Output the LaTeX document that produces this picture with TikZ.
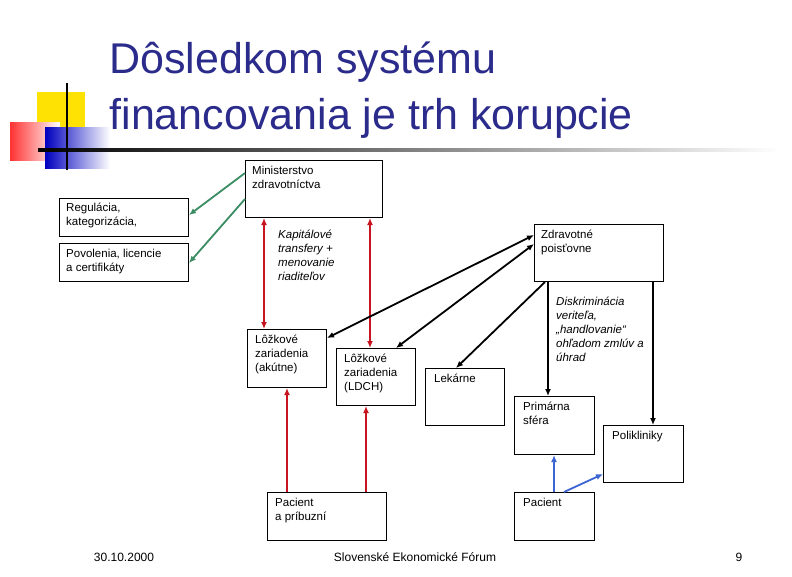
\documentclass[tikz,border=0pt]{standalone}
\usepackage{fontspec}
\setmainfont{Liberation Sans}
\usetikzlibrary{positioning,arrows.meta}
\definecolor{titleblue}{RGB}{43,43,140}
\definecolor{arrred}{RGB}{200,20,30}
\definecolor{arrgreen}{RGB}{60,140,100}
\definecolor{arrblue}{RGB}{60,100,210}
\tikzstyle{box}=[draw,line width=1pt,fill=white,anchor=north west,inner sep=0pt]
\tikzstyle{txt}=[anchor=north west,align=left,font=\fontsize{11.5}{14}\selectfont,inner sep=0pt]
\tikzstyle{lbl}=[anchor=north west,align=left,font=\fontsize{11.5}{14}\selectfont\itshape,inner sep=0pt]
\tikzstyle{conn}=[line width=1.8pt,->]

\begin{document}
\begin{tikzpicture}[x=1pt,y=-1pt,>={Latex[length=7pt,width=6pt]}]
    \useasboundingbox (0,0) rectangle (792,576);

    % logo
    \fill[yellow!85!orange] (37,92) rectangle (85,135);
    \shade[left color=red!80,right color=white] (10,122) rectangle (60,160);
    \shade[left color=blue!75!black,right color=white] (45,127) rectangle (110,168);
    \shade[left color=black,right color=white] (38,148.5) rectangle (780,151.5);
    \draw[line width=2.5pt] (67,83) -- (67,170);

    % title
    \node[anchor=west,text=titleblue,font=\fontsize{43}{50}\selectfont] (t1) at (106,62) {Dôsledkom systému};
    \node[anchor=west,text=titleblue,font=\fontsize{43}{50}\selectfont] (t2) at (106,118) {financovania je trh korupcie};

    % boxes
    \node[box,minimum width=137,minimum height=57] (mz) at (245,160) {};
    \node[txt] at (252,166) {Ministerstvo\\zdravotníctva};
    \node[box,minimum width=129,minimum height=38] (reg) at (59,198) {};
    \node[txt] at (66,203) {Regulácia,\\kategorizácia,};
    \node[box,minimum width=129,minimum height=38] (pov) at (59,243) {};
    \node[txt] at (66,249) {Povolenia, licencie\\a certifikáty};
    \node[box,minimum width=129,minimum height=57] (zp) at (534,224) {};
    \node[txt] at (541,230) {Zdravotné\\poisťovne};
    \node[box,minimum width=79,minimum height=58] (lza) at (247,329) {};
    \node[txt] at (255,335) {Lôžkové\\zariadenia\\(akútne)};
    \node[box,minimum width=79,minimum height=57] (lzl) at (336,348) {};
    \node[txt] at (344,354) {Lôžkové\\zariadenia\\(LDCH)};
    \node[box,minimum width=79,minimum height=57] (lek) at (425,368) {};
    \node[txt] at (434,374) {Lekárne};
    \node[box,minimum width=80,minimum height=58] (prim) at (514,396) {};
    \node[txt] at (523,402) {Primárna\\sféra};
    \node[box,minimum width=80,minimum height=57] (pol) at (603,425) {};
    \node[txt] at (612,431) {Polikliniky};
    \node[box,minimum width=119,minimum height=48] (pac1) at (267,492) {};
    \node[txt] at (275,498) {Pacient\\a príbuzní};
    \node[box,minimum width=80,minimum height=48] (pac2) at (514,492) {};
    \node[txt] at (523,498) {Pacient};

    % labels
    \node[lbl] (kt) at (278,230) {Kapitálové\\transfery +\\menovanie\\riaditeľov};
    \node[lbl] (dk) at (556,297) {Diskriminácia\\veriteľa,\\„handlovanie“\\ohľadom zmlúv a\\úhrad};

    % connectors
    \draw[conn,arrgreen] (mz.west |- 0,173) -- (reg.east |- 0,215);
    \draw[conn,arrgreen] (mz.west |- 0,199) -- (pov.east |- 0,263);
    \draw[conn,<->,arrred] (mz.south -| 264,0) -- (lza.north -| 264,0);
    \draw[conn,<->,arrred] (mz.south -| 370,0) -- (lzl.north -| 370,0);
    \draw[conn,arrred] (pac1.north -| 287,0) -- (lza.south -| 287,0);
    \draw[conn,arrred] (pac1.north -| 366,0) -- (lzl.south -| 366,0);
    \draw[conn,<->] (zp.west |- 0,235) -- (lza.east |- 0,338);
    \draw[conn,<->] (zp.west |- 0,244) -- (lzl.north -| 396,0);
    \draw[conn] (zp.south -| 545,0) -- (lek.north -| 456,0);
    \draw[conn] (zp.south -| 548,0) -- (prim.north -| 548,0);
    \draw[conn] (zp.south -| 653,0) -- (pol.north -| 653,0);
    \draw[conn,arrblue] (pac2.north -| 554,0) -- (prim.south -| 554,0);
    \draw[conn,arrblue] (pac2.north -| 564,0) -- (pol.west |- 0,474);

    % footer
    \node[font=\fontsize{12}{14}\selectfont] (dt) at (124,557) {30.10.2000};
    \node[font=\fontsize{12}{14}\selectfont] (ft) at (415,557) {Slovenské Ekonomické Fórum};
    \node[font=\fontsize{12}{14}\selectfont] (pg) at (739,557) {9};
\end{tikzpicture}
\end{document}
